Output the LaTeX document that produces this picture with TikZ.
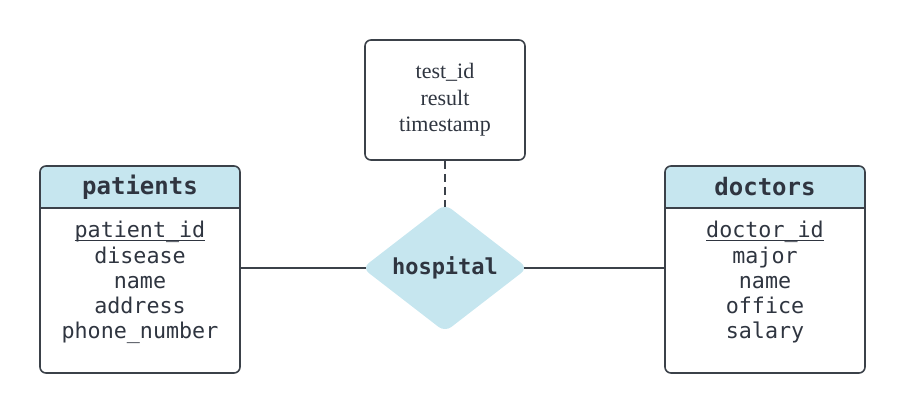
\documentclass[tikz,border=0pt]{standalone}
\usepackage{fontspec}
\setmainfont{Liberation Serif}
\setmonofont{DejaVu Sans Mono}
\usetikzlibrary{shapes.geometric}
\definecolor{erline}{HTML}{3B4149}
\definecolor{erfill}{HTML}{C6E6EF}
\definecolor{ertext}{HTML}{2F3540}
\newcommand{\keyattr}[1]{\underline{\smash{#1}\rule[-1.6pt]{0pt}{17pt}}}

\begin{document}
\begin{tikzpicture}
	[x=1pt,y=-1pt,line width=1.6pt,
	 entity/.style={draw=erline, rounded corners=6pt, minimum width=200pt, minimum height=207pt, inner sep=0pt,
	   path picture={\fill[erfill,sharp corners] (path picture bounding box.north west) rectangle ([yshift=-42pt]path picture bounding box.north east);
	     \draw[erline,sharp corners,line width=1.4pt] ([yshift=-42pt]path picture bounding box.north west) -- ([yshift=-42pt]path picture bounding box.north east);}},
	 title/.style={font=\ttfamily\bfseries\fontsize{24}{28}\selectfont, text=ertext},
	 attrlist/.style={anchor=north, inner sep=0pt, align=center, font=\ttfamily\fontsize{21.7}{25.3}\selectfont, text=ertext},
	 rel/.style={diamond, fill=erfill, rounded corners=8pt, minimum width=166pt, minimum height=121pt, inner sep=0pt,
	   font=\ttfamily\bfseries\fontsize{22}{26}\selectfont, text=ertext},
	 attrbox/.style={draw=erline, rounded corners=6pt, minimum width=160pt, minimum height=120pt, align=center,
	   font=\fontsize{22}{26.5}\selectfont, text=ertext}]
	\useasboundingbox (0,0) rectangle (906,414);

	\node[entity] (patients) at (140,269.5) {};
	\node[title] (patientsTitle) at (140,187) {patients};
	\node[attrlist] (patientsAttrs) at (140,221.5) {\keyattr{patient\_id}\\disease\\name\\address\\phone\_number};

	\node[entity] (doctors) at (765,269.5) {};
	\node[title] (doctorsTitle) at (765,187) {doctors};
	\node[attrlist] (doctorsAttrs) at (765,221.5) {\keyattr{doctor\_id}\\major\\name\\office\\salary};

	\node[rel] (hosp) at (445,268) {hospital};
	\node[attrbox] (tests) at (445,100) {test\_id\\result\\timestamp};

	\draw[erline] (hosp.west -| patients.east) -- ([xshift=5pt]hosp.west);
	\draw[erline] ([xshift=-5pt]hosp.east) -- (hosp.east -| doctors.west);
	\draw[erline, dash pattern=on 8pt off 5pt] (tests.south) -- ([yshift=-4pt]hosp.north);
\end{tikzpicture}
\end{document}
